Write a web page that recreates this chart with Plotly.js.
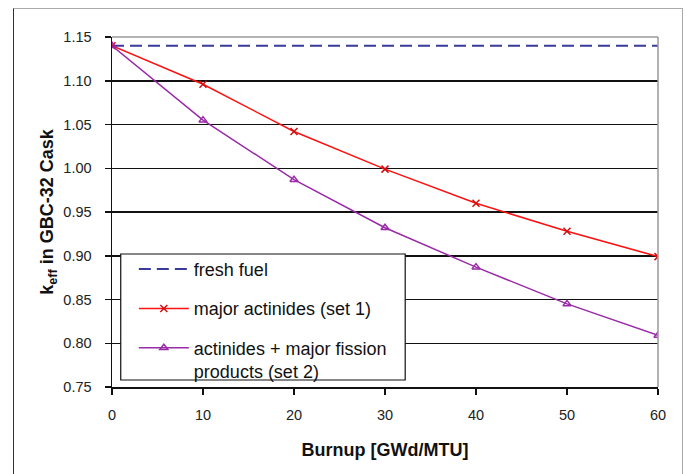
<!DOCTYPE html>
<html>
<head>
<meta charset="utf-8">
<script src="https://cdn.plot.ly/plotly-3.0.1.min.js"></script>
<style>
  html, body { margin: 0; padding: 0; background: #ffffff; }
  #frame { position: absolute; left: 13px; top: 8px; width: 668px; height: 480px;
           border-left: 1px solid #333; border-top: 1px solid #aaa; border-right: 1px solid #aaa; }
  #chart { position: absolute; left: 0; top: 0; width: 686px; height: 474px; }
</style>
</head>
<body>
<div id="frame"></div>
<div id="chart"></div>
<script>
// Data
const burnup = [0, 10, 20, 30, 40, 50, 60];
const freshFuelX = [0, 60];
const freshFuelK = [1.140, 1.140];
const set1K = [1.140, 1.096, 1.042, 0.999, 0.960, 0.928, 0.899];
const set2K = [1.140, 1.055, 0.987, 0.932, 0.887, 0.845, 0.809];
const seriesNames = ["fresh fuel", "major actinides (set 1)", "actinides + major fission<br>products (set 2)"];
const xTitle = "Burnup [GWd/MTU]";
const yTitle = "k<sub>eff</sub> in GBC-32 Cask";

const font = "Liberation Sans, Arial, sans-serif";

const traces = [
  { x: freshFuelX, y: freshFuelK, name: seriesNames[0], mode: "lines",
    line: { color: "#3a3a9a", width: 2, dash: "12px,6px" }, legendgroup: "a" },
  { x: burnup, y: set1K, name: seriesNames[1], mode: "lines+markers",
    line: { color: "#ff1010", width: 1.5 },
    marker: { symbol: "x-thin-open", size: 7, color: "#d01010", line: { width: 1.5, color: "#d01010" } },
    legendgroup: "b" },
  { x: burnup, y: set2K, name: seriesNames[2], mode: "lines+markers",
    line: { color: "#9a2aa8", width: 1.5 },
    marker: { symbol: "triangle-up-open", size: 7, color: "#9a2aa8", line: { width: 1.5 } },
    legendgroup: "c" }
];

const layout = {
  width: 686, height: 474,
  margin: { l: 112, r: 28, t: 37, b: 87 },
  paper_bgcolor: "rgba(0,0,0,0)",
  plot_bgcolor: "#ffffff",
  font: { family: font, size: 14, color: "#111" },
  showlegend: true,
  legend: {
    x: 0.04, y: 0.389, xanchor: "left", yanchor: "top",
    bgcolor: "rgba(0,0,0,0)", borderwidth: 0,
    traceorder: "grouped", tracegroupgap: 13, valign: "top",
    itemwidth: 50,
    font: { family: font, size: 18, color: "#111" }
  },
  xaxis: {
    range: [0, 60], dtick: 10, tick0: 0,
    showgrid: false, zeroline: false,
    showline: true, linecolor: "#111", linewidth: 1.5,
    ticks: "outside", ticklen: 6, tickcolor: "#111", tickwidth: 1.5,
    ticklabelstandoff: 8,
    tickfont: { family: font, size: 14.5, color: "#222" },
    title: { text: xTitle, font: { family: font, size: 18, color: "#111", weight: "bold" }, standoff: 21 }
  },
  yaxis: {
    range: [0.75, 1.15], dtick: 0.05, tick0: 0.75, tickformat: ".2f",
    showgrid: true, gridcolor: "#111", gridwidth: 1.5,
    zeroline: false,
    showline: true, linecolor: "#111", linewidth: 1.5,
    ticks: "outside", ticklen: 6, tickcolor: "#111", tickwidth: 1.5,
    ticklabelstandoff: 10,
    tickfont: { family: font, size: 14.5, color: "#222" },
    title: { text: yTitle, font: { family: font, size: 18, color: "#111", weight: "bold" }, standoff: 5 }
  },
  shapes: [
    { type: "line", xref: "paper", yref: "paper", x0: 0, x1: 1, y0: 1, y1: 1, line: { color: "#999", width: 1.5 } },
    { type: "line", xref: "paper", yref: "paper", x0: 1, x1: 1, y0: 0, y1: 1, line: { color: "#999", width: 1.5 } },
    { type: "rect", xref: "paper", yref: "paper", x0: 0.016, x1: 0.537, y0: 0.02, y1: 0.38,
      fillcolor: "#ffffff", line: { color: "#111", width: 1.2 }, layer: "above" }
  ]
};

Plotly.newPlot("chart", traces, layout, { displayModeBar: false, staticPlot: true });
</script>
</body>
</html>
